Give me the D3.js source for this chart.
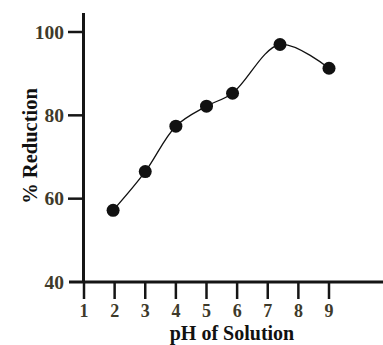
<!DOCTYPE html>
<html>
<head>
<meta charset="utf-8">
<script src="https://cdn.jsdelivr.net/npm/d3@7"></script>
<style>
  body { margin: 0; background: #fff; }
  text { font-family: "Liberation Serif", "Times New Roman", serif; font-weight: bold; }
</style>
</head>
<body>
<div id="chart"></div>
<script>
// pH of solution vs % reduction
const phValues = [1.95, 3, 4, 5, 5.85, 7.4, 9];
const reduction = [57.2, 66.5, 77.4, 82.2, 85.3, 97.0, 91.3];
const xTicks = [1, 2, 3, 4, 5, 6, 7, 8, 9];
const yTicks = [40, 60, 80, 100];

const width = 383;
const height = 345;

const svg = d3.select('#chart')
    .append('svg')
    .attr('width', width)
    .attr('height', height);

// scales
const x = d3.scaleLinear().domain([1, 9]).range([84, 329]);
const y = d3.scaleLinear().domain([40, 100]).range([282, 32]);

const labelColour = '#3e3a2a';

// y axis line
svg.append('line')
    .attr('x1', 83.5).attr('x2', 83.5)
    .attr('y1', 13).attr('y2', 283)
    .attr('stroke', '#151515').attr('stroke-width', 3);

// x axis line
svg.append('line')
    .attr('x1', 69).attr('x2', 383)
    .attr('y1', y(40)).attr('y2', y(40))
    .attr('stroke', '#151515').attr('stroke-width', 3);

// y ticks
const yt = svg.selectAll('.ytick')
    .data(yTicks)
    .enter()
    .append('g')
    .attr('class', 'ytick');

yt.filter(d => d !== 40).append('line')
    .attr('x1', 68).attr('x2', 84)
    .attr('y1', d => y(d)).attr('y2', d => y(d))
    .attr('stroke', '#151515').attr('stroke-width', 2.5);

yt.append('text')
    .attr('x', 64)
    .attr('y', d => y(d) + 6.5)
    .attr('text-anchor', 'end')
    .attr('font-size', 19.5)
    .attr('fill', labelColour)
    .text(d => d);

// x ticks
const xt = svg.selectAll('.xtick')
    .data(xTicks)
    .enter()
    .append('g')
    .attr('class', 'xtick');

xt.append('line')
    .attr('x1', d => x(d)).attr('x2', d => x(d))
    .attr('y1', y(40)).attr('y2', 299)
    .attr('stroke', '#151515').attr('stroke-width', 2.5);

xt.append('text')
    .attr('x', d => x(d))
    .attr('y', 317)
    .attr('text-anchor', 'middle')
    .attr('font-size', 18)
    .attr('fill', labelColour)
    .text(d => d);

// axis titles
svg.append('text')
    .attr('x', 232)
    .attr('y', 340)
    .attr('text-anchor', 'middle')
    .attr('font-size', 20)
    .attr('fill', '#111')
    .text('pH of Solution');

svg.append('text')
    .attr('transform', 'translate(37, 146) rotate(-90)')
    .attr('text-anchor', 'middle')
    .attr('font-size', 20.5)
    .attr('fill', '#111')
    .text('% Reduction');

// data line
const points = phValues.map((p, i) => [p, reduction[i]]);

const line = d3.line()
    .x(d => x(d[0]))
    .y(d => y(d[1]))
    .curve(d3.curveCatmullRom.alpha(0.5));

svg.append('path')
    .datum(points)
    .attr('d', line)
    .attr('fill', 'none')
    .attr('stroke', '#111')
    .attr('stroke-width', 1.3);

svg.selectAll('.dot')
    .data(points)
    .enter()
    .append('circle')
    .attr('class', 'dot')
    .attr('cx', d => x(d[0]))
    .attr('cy', d => y(d[1]))
    .attr('r', 6.5)
    .attr('fill', '#111');
</script>
</body>
</html>
